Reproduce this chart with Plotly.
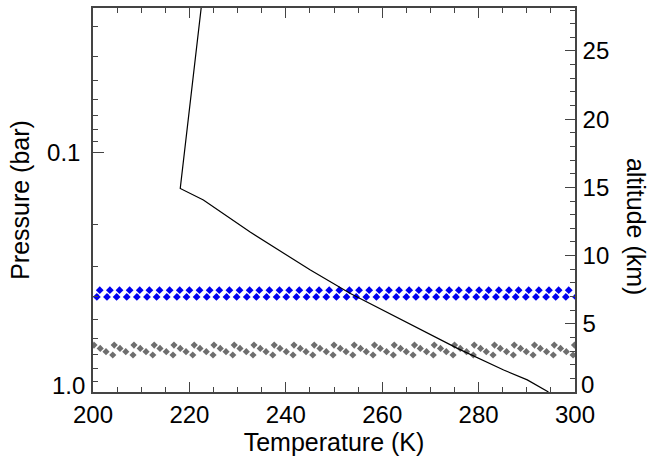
import math
import plotly.graph_objects as go

# Temperature profile (pressure in bar, temperature in K)
profile_pressure = [1.0, 0.89, 0.81, 0.656, 0.388, 0.31, 0.215, 0.158, 0.1415, 0.02]
profile_temperature = [294.5, 290.1, 285.2, 275.5, 253.4, 245.1, 232.6, 222.9, 218.1, 223.0]

# Blue cloud layer: two staggered rows of diamonds
blue_lower_T = [200.8, 202.9, 204.9, 207.0, 209.1, 211.2, 213.2, 215.3, 217.4, 219.4,
                221.5, 223.6, 225.6, 227.7, 229.8, 231.9, 233.9, 236.0, 238.1, 240.1,
                242.2, 244.3, 246.3, 248.4, 250.5, 252.6, 254.6, 256.7, 258.8, 260.8,
                262.9, 265.0, 267.0, 269.1, 271.2, 273.3, 275.3, 277.4, 279.5, 281.5,
                283.6, 285.7, 287.7, 289.8, 291.9, 294.0, 296.0, 298.1, 300.2]
blue_upper_T = [201.4, 203.5, 205.5, 207.6, 209.7, 211.7, 213.8, 215.9, 218.0, 220.0,
                222.1, 224.2, 226.2, 228.3, 230.4, 232.5, 234.5, 236.6, 238.7, 240.7,
                242.8, 244.9, 246.9, 249.0, 251.1, 253.2, 255.2, 257.3, 259.4, 261.4,
                263.5, 265.6, 267.6, 269.7, 271.8, 273.9, 275.9, 278.0, 280.1, 282.1,
                284.2, 286.3, 288.3, 290.4, 292.5, 294.6, 296.6, 298.7, 300.8]
blue_lower_p = 0.401
blue_upper_p = 0.376

# Gray cloud layer: sawtooth of diamonds
gray_T = [200.2, 201.5, 202.7, 204.1, 204.4, 205.6, 206.8, 208.3, 208.5, 209.8, 211.0, 212.4,
          212.7, 213.9, 215.2, 216.6, 216.8, 218.1, 219.3, 220.7, 221.0, 222.2, 223.5, 224.9,
          225.1, 226.4, 227.6, 229.0, 229.3, 230.5, 231.8, 233.2, 233.4, 234.7, 235.9, 237.3,
          237.6, 238.8, 240.1, 241.5, 241.7, 243.0, 244.2, 245.6, 245.9, 247.1, 248.4, 249.8,
          250.0, 251.3, 252.5, 253.9, 254.2, 255.5, 256.7, 258.1, 258.4, 259.6, 260.9, 262.3,
          262.5, 263.8, 265.0, 266.4, 266.7, 267.9, 269.2, 270.6, 270.8, 272.1, 273.3, 274.7,
          275.0, 276.2, 277.5, 278.9, 279.1, 280.4, 281.6, 283.0, 283.3, 284.5, 285.8, 287.2,
          287.4, 288.7, 289.9, 291.3, 291.6, 292.8, 294.1, 295.5, 295.7, 297.0, 298.2, 299.6,
          299.9]
gray_p_cycle = [0.637, 0.658, 0.679, 0.701]

# Axis settings
x_range = [200, 300]
p_top, p_bottom = 0.025, 1.0
alt_range = [0, 28.15]
p_major = [0.1, 1.0]
p_major_text = ["0.1", ""]
p_minor = [0.03, 0.04, 0.05, 0.06, 0.07, 0.08, 0.09, 0.2, 0.3, 0.4, 0.5, 0.6, 0.7, 0.8, 0.9]
alt_major = [0, 5, 10, 15, 20, 25]
alt_major_text = ["", "5", "10", "15", "20", "25"]

gray_p = [gray_p_cycle[i % len(gray_p_cycle)] for i in range(len(gray_T))]

# connectors lower->upper for blue pairs
conn_x, conn_y = [], []
for tl, tu in zip(blue_lower_T, blue_upper_T):
    conn_x += [tl, tu, None]
    conn_y += [blue_lower_p, blue_upper_p, None]

fig = go.Figure()

fig.add_trace(go.Scatter(x=gray_T, y=gray_p, mode="markers",
                         marker=dict(symbol="diamond", size=5.5, color="#6e6e6e",
                                     line=dict(width=0)),
                         showlegend=False))
fig.add_trace(go.Scatter(x=conn_x, y=conn_y, mode="lines",
                         line=dict(color="#2a2ae8", width=1, dash="dot"),
                         showlegend=False))
fig.add_trace(go.Scatter(x=blue_lower_T, y=[blue_lower_p] * len(blue_lower_T), mode="markers",
                         marker=dict(symbol="diamond", size=6, color="#0000f0",
                                     line=dict(width=0)),
                         showlegend=False))
fig.add_trace(go.Scatter(x=blue_upper_T, y=[blue_upper_p] * len(blue_upper_T), mode="markers",
                         marker=dict(symbol="diamond", size=6, color="#0000f0",
                                     line=dict(width=0)),
                         showlegend=False))
fig.add_trace(go.Scatter(x=profile_temperature, y=profile_pressure, mode="lines",
                         line=dict(color="black", width=1.2),
                         showlegend=False))
# invisible trace to activate the altitude axis
fig.add_trace(go.Scatter(x=[None], y=[None], yaxis="y2", mode="lines", showlegend=False,
                         hoverinfo="skip"))

axis_color = "#444444"
font_family = "Liberation Sans, Arial, sans-serif"

# bottom-edge labels, raised slightly as in the reference
fig.add_annotation(text="1.0", xref="paper", x=0, yref="y", y=math.log10(p_bottom),
                   xanchor="right", yanchor="middle", xshift=-6, yshift=7,
                   showarrow=False, font=dict(size=24, color="black"))
fig.add_annotation(text="0", xref="paper", x=1, yref="y2", y=alt_major[0],
                   xanchor="left", yanchor="middle", xshift=4, yshift=8,
                   showarrow=False, font=dict(size=24, color="black"))
# right axis title
fig.add_annotation(text="altitude (km)", xref="paper", x=1, yref="paper", y=0.43,
                   xanchor="center", yanchor="middle", xshift=61, textangle=90,
                   showarrow=False, font=dict(size=25, color="black"))

fig.update_layout(
    width=650, height=459,
    margin=dict(l=93, r=75, t=8, b=67, autoexpand=False),
    paper_bgcolor="white", plot_bgcolor="white",
    font=dict(family=font_family, size=24, color="black"),
    xaxis=dict(
        range=x_range, dtick=20, tick0=200,
        ticks="inside", ticklen=10, tickwidth=1, tickcolor=axis_color,
        minor=dict(dtick=5, ticks="inside", ticklen=5, tickwidth=1, tickcolor=axis_color),
        showline=True, linecolor=axis_color, linewidth=1.5, mirror="ticks",
        showgrid=False, zeroline=False,
        tickfont=dict(size=24),
        title=dict(text="Temperature (K)", font=dict(size=25), standoff=0),
        automargin=False,
    ),
    yaxis=dict(
        type="log",
        range=[math.log10(p_bottom), math.log10(p_top)],
        tickmode="array", tickvals=p_major, ticktext=p_major_text,
        ticks="inside", ticklen=11, tickwidth=1, tickcolor=axis_color,
        minor=dict(tickmode="array", tickvals=p_minor, ticks="inside", ticklen=5,
                   tickwidth=1, tickcolor=axis_color),
        showline=True, linecolor=axis_color, linewidth=1.5, mirror=False,
        showgrid=False, zeroline=False,
        tickfont=dict(size=24), ticklabelstandoff=6,
        title=dict(text="Pressure (bar)", font=dict(size=25), standoff=10),
        automargin=False,
    ),
    yaxis2=dict(
        overlaying="y", side="right",
        range=alt_range,
        tickmode="array", tickvals=alt_major, ticktext=alt_major_text,
        ticks="inside", ticklen=10, tickwidth=1, tickcolor=axis_color,
        minor=dict(dtick=1, tick0=0, ticks="inside", ticklen=5, tickwidth=1,
                   tickcolor=axis_color),
        showline=True, linecolor=axis_color, linewidth=1.5,
        showgrid=False, zeroline=False,
        tickfont=dict(size=24), ticklabelstandoff=1,
        automargin=False,
    ),
)

fig.write_html("out.html")
